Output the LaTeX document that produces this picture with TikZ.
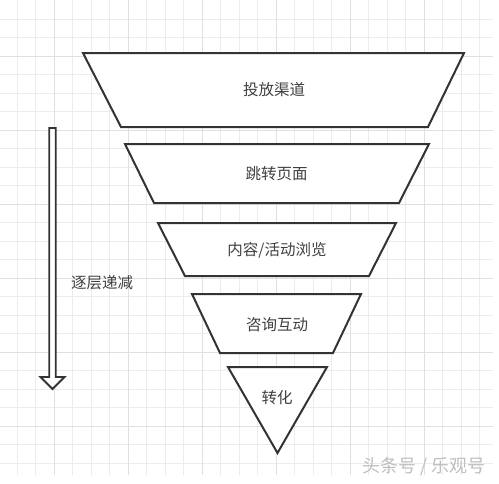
\documentclass[tikz,border=0pt]{standalone}
\usepackage{fontspec}
\newfontfamily\cjkfont{Noto Sans CJK SC}
\usetikzlibrary{arrows.meta}
\definecolor{gridcolor}{RGB}{236, 236, 236}
\definecolor{gridmajor}{RGB}{224, 224, 224}
\definecolor{edgecolor}{RGB}{51, 51, 51}
\definecolor{labelcolor}{RGB}{64, 64, 64}
\definecolor{markcolor}{RGB}{190, 190, 190}
\tikzset{
gridline/.style={
  draw=gridcolor,
  line width=0.8pt
},
gridmajorline/.style={
  draw=gridmajor,
  line width=0.9pt
},
layer/.style={
  draw=edgecolor,
  fill=white,
  line width=2pt,
  line join=miter
},
layertext/.style={
  font=\cjkfont\fontsize{15.5}{18}\selectfont,
  text=labelcolor,
  inner sep=0pt
},
hollowarrow/.style={
  draw=edgecolor,
  fill=white,
  line width=1.8pt,
  line join=miter
},
marktext/.style={
  font=\cjkfont\fontsize{18}{20}\selectfont,
  text=markcolor,
  inner sep=0pt
}
}

\begin{document}
\begin{tikzpicture}[x=1pt, y=-1pt]
    \useasboundingbox (0,0) rectangle (499,483);

    % Background grid
    \begin{scope}
      \clip (0,0) rectangle (493,475);
      \foreach \i [evaluate=\i as \gx using 17.3+18.5*\i] in {0,...,26}
        \draw[gridline] (\gx,0) -- (\gx,475);
      \foreach \j [evaluate=\j as \gy using 19+18.5*\j] in {0,...,24}
        \draw[gridline] (0,\gy) -- (493,\gy);
      \foreach \i [evaluate=\i as \gx using 17.3+18.5*\i] in {2,6,...,26}
        \draw[gridmajorline] (\gx,0) -- (\gx,475);
      \foreach \j [evaluate=\j as \gy using 19+18.5*\j] in {2,6,...,22}
        \draw[gridmajorline] (0,\gy) -- (493,\gy);
    \end{scope}

    % Funnel layers from top to bottom
    \draw[layer] (83,53) -- (464,53) -- (428,127) -- (121,127) -- cycle;
    \draw[layer] (125,144) -- (429,144) -- (399,203) -- (154,203) -- cycle;
    \draw[layer] (158,223) -- (396,223) -- (369,276) -- (185,276) -- cycle;
    \draw[layer] (192,294) -- (361,294) -- (333,353) -- (220,353) -- cycle;
    \draw[layer] (228,367) -- (327,367) -- (277.5,453) -- cycle;

    \node[layertext] (channel) at (274,90) {投放渠道};
    \node[layertext] (landing) at (276.5,174) {跳转页面};
    \node[layertext] (browse) at (277,250) {内容/活动浏览};
    \node[layertext] (consult) at (277,325) {咨询互动};
    \node[layertext] (convert) at (277,398) {转化};

    % Side arrow
    \draw[hollowarrow] (49.3,128) -- (55.7,128) -- (55.7,377) -- (64.5,377)
      -- (52.5,389) -- (40.5,377) -- (49.3,377) -- cycle;
    \node[layertext] (trend) at (102,283) {逐层递减};

    \node[marktext] (mark) at (424,467) {头条号 / 乐观号};

  \end{tikzpicture}
\end{document}
